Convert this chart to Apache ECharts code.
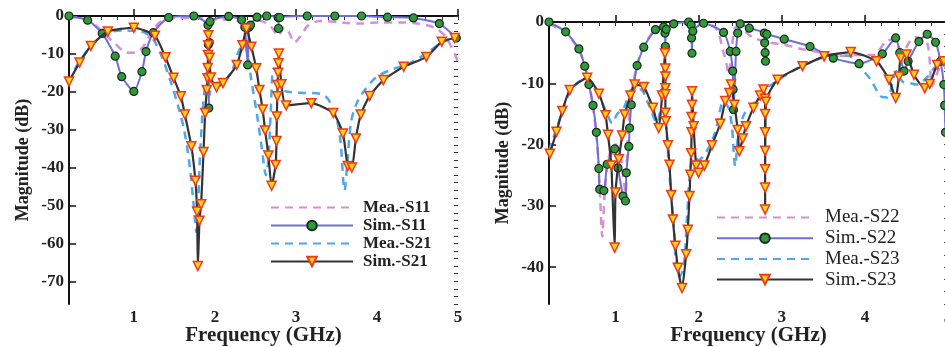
<!DOCTYPE html>
<html><head><meta charset="utf-8">
<script src="https://cdn.jsdelivr.net/npm/echarts@6/dist/echarts.min.js"></script>
<style>html,body{margin:0;padding:0;background:#fff}#c{width:945px;height:347px}</style>
</head><body><div id="c"></div>
<script>
// ---- tick labels ----
const xTicks = [1, 2, 3, 4, 5];
const leftYTicks = [0, -10, -20, -30, -40, -50, -60, -70];
const rightYTicks = [0, -10, -20, -30, -40];
const seriesNames = ['Mea.-S11', 'Sim.-S11', 'Mea.-S21', 'Sim.-S21', 'Mea.-S22', 'Sim.-S22', 'Mea.-S23', 'Sim.-S23'];

// ---- left panel data [GHz, dB] ----
const meaS11 = [[0.2,-0.3],[0.35,-0.6],[0.5,-2],[0.65,-5],[0.78,-7.5],[0.88,-9.4],[0.97,-9.7],[1.05,-9.4],[1.12,-8],[1.2,-5],[1.3,-2],[1.4,-0.8],[1.55,-0.6],[1.7,-0.5],[1.9,-0.7],[2.0,-0.9],[2.2,-1.0],[2.3,-1.5],[2.36,-3.2],[2.42,-2.5],[2.5,-1.2],[2.6,-1.5],[2.7,-3],[2.78,-5.2],[2.86,-3],[2.92,-4.5],[2.98,-7],[3.05,-5.5],[3.15,-2.5],[3.3,-1.3],[3.6,-1.8],[3.8,-2],[4.0,-1.7],[4.3,-1.7],[4.5,-2],[4.7,-3],[4.85,-5.5],[5.0,-12]];
const simS11 = [[0.2,0],[0.43,-1.1],[0.61,-4.6],[0.77,-10.6],[0.85,-16],[1.0,-19.9],[1.1,-14.7],[1.15,-9.4],[1.24,-4.4],[1.43,-0.4],[1.74,0],[1.915,-2.4],[1.92,-7.5],[1.925,-24.3],[1.93,-7],[1.94,-1.5],[2.17,-0.1],[2.33,-1],[2.37,-3],[2.405,-12.9],[2.42,-3],[2.44,-2.4],[2.52,-0.3],[2.64,0],[2.78,-0.4],[2.785,-3.3],[2.8,-0.4],[3.14,0],[3.48,0],[3.81,0],[4.13,-0.3],[4.45,-0.5],[4.77,-2],[4.98,-5.8]];
const meaS21 = [[0.2,-17.5],[0.3,-13],[0.45,-8.5],[0.6,-5.5],[0.75,-4],[0.9,-3.8],[1.05,-4],[1.15,-4.5],[1.25,-6.5],[1.35,-11],[1.45,-17],[1.55,-24],[1.62,-30],[1.68,-38],[1.73,-48],[1.76,-55],[1.77,-57],[1.79,-52],[1.81,-40],[1.84,-28],[1.87,-20],[1.9,-17],[1.93,-21],[1.97,-18],[2.05,-17.5],[2.15,-16.5],[2.22,-14],[2.3,-9],[2.36,-7.5],[2.4,-10],[2.45,-17],[2.52,-26],[2.58,-35],[2.63,-42],[2.66,-38],[2.69,-25],[2.72,-14],[2.75,-14],[2.8,-19],[2.9,-20],[3.1,-20.3],[3.3,-20.5],[3.4,-22],[3.5,-27],[3.55,-33],[3.6,-46],[3.63,-40],[3.68,-28],[3.75,-23],[3.85,-19.5],[4.0,-16],[4.2,-14],[4.4,-12.5],[4.6,-10],[4.8,-7],[4.97,-5.5]];
const simS21 = [[0.2,-17.3],[0.33,-12.3],[0.47,-7.9],[0.68,-4.1],[1.0,-3.1],[1.26,-5.2],[1.39,-10.9],[1.49,-16.3],[1.58,-21.2],[1.63,-26],[1.71,-34.4],[1.76,-43.5],[1.78,-51.6],[1.79,-66],[1.81,-54],[1.83,-49.7],[1.86,-35.9],[1.88,-25.6],[1.9,-19.5],[1.91,-16.4],[1.912,-13.7],[1.915,-10.3],[1.918,-7.7],[1.92,-5.1],[1.935,-11],[1.95,-16.2],[2.02,-18.8],[2.1,-17.7],[2.27,-12.9],[2.34,-7.7],[2.39,-3.3],[2.45,-8.1],[2.51,-13.8],[2.55,-19.5],[2.59,-24.7],[2.62,-30.2],[2.66,-36.8],[2.7,-44.8],[2.75,-39.3],[2.76,-33],[2.765,-26.5],[2.77,-21.2],[2.775,-18.2],[2.78,-15],[2.785,-12.5],[2.79,-9.9],[2.82,-18],[2.88,-23.6],[3.19,-23],[3.46,-25.6],[3.58,-31],[3.64,-39.6],[3.69,-40],[3.74,-32.3],[3.8,-26],[3.91,-21.1],[4.08,-16.9],[4.33,-13.4],[4.61,-10.8],[4.8,-6.8],[4.96,-5.8]];

// ---- right panel data [GHz, dB] ----
const meaS22 = [[0.2,-0.3],[0.4,-1.8],[0.56,-4.6],[0.65,-8],[0.72,-13],[0.78,-20],[0.82,-30],[0.84,-35],[0.87,-28],[0.92,-22],[1.0,-20],[1.05,-21],[1.1,-26],[1.12,-28],[1.15,-18],[1.2,-11],[1.28,-6],[1.38,-3],[1.5,-1],[1.65,-0.5],[1.9,-0.3],[2.1,-0.3],[2.22,-1.2],[2.29,-4.5],[2.33,-6.5],[2.36,-8.5],[2.4,-4],[2.45,-0.8],[2.55,-1.5],[2.65,-2.5],[2.75,-3],[2.87,-3.4],[3.03,-3.7],[3.27,-4.5],[3.5,-5],[3.7,-5.5],[3.9,-5.4],[4.11,-5.4],[4.25,-3.2],[4.35,-2.8],[4.45,-5],[4.55,-3],[4.62,-2.5],[4.75,-3.4],[4.81,-10.5],[4.88,-8],[4.95,-6]];
const simS22 = [[0.2,0],[0.4,-1.6],[0.56,-4.4],[0.63,-7.2],[0.68,-10.2],[0.73,-13.6],[0.77,-18],[0.8,-23.9],[0.81,-27.3],[0.86,-27.5],[0.9,-23.2],[0.99,-20.7],[1.03,-23.8],[1.09,-28.4],[1.12,-29.2],[1.13,-24.6],[1.16,-20.3],[1.17,-17.3],[1.19,-13.5],[1.26,-7.1],[1.34,-4.1],[1.48,-1.25],[1.58,-0.8],[1.595,-1.8],[1.6,-4],[1.61,-1.2],[1.7,-0.3],[1.88,0],[1.91,-0.5],[1.915,-2.6],[1.92,-5.1],[1.93,-1.5],[2.06,-0.2],[2.3,-1.7],[2.38,-4.8],[2.41,-8],[2.415,-11],[2.42,-14.3],[2.45,-4.8],[2.47,-1.8],[2.5,-0.3],[2.61,-1],[2.79,-1.8],[2.795,-3.4],[2.8,-5],[2.805,-6.4],[2.82,-2],[3.03,-2.8],[3.34,-4],[3.62,-5.9],[3.93,-6.8],[4.21,-5.2],[4.37,-2.6],[4.42,-5],[4.47,-8],[4.52,-6.4],[4.65,-3.2],[4.75,-2],[4.85,-3.3],[4.91,-6.4],[4.95,-10.2],[4.96,-13.6],[4.97,-18]];
const meaS23 = [[0.2,-21],[0.3,-17],[0.45,-11.5],[0.6,-9.5],[0.7,-10],[0.8,-12],[0.9,-15],[0.96,-16.5],[1.02,-15],[1.1,-14],[1.2,-11],[1.3,-11],[1.4,-13.5],[1.5,-16.5],[1.55,-14],[1.6,-16],[1.65,-25],[1.7,-33],[1.73,-39.8],[1.77,-41.5],[1.82,-40],[1.86,-32],[1.9,-24],[1.95,-22],[2.0,-22.5],[2.1,-21],[2.2,-18],[2.3,-13],[2.36,-14],[2.4,-17],[2.44,-23.5],[2.48,-18],[2.55,-15],[2.65,-13.5],[2.75,-11.5],[2.9,-10],[3.2,-7.5],[3.5,-5.8],[3.8,-5.5],[3.97,-7.8],[4.07,-9.4],[4.19,-12.1],[4.27,-12.3],[4.38,-8],[4.45,-9.7],[4.55,-10],[4.63,-10.2],[4.75,-9],[4.87,-7.2],[4.97,-7.5]];
const simS23 = [[0.21,-21.5],[0.29,-17.9],[0.36,-14.5],[0.45,-11.1],[0.66,-9.1],[0.8,-11.7],[0.88,-15.2],[0.91,-18.4],[0.95,-23.4],[0.99,-36.8],[1.0,-27.8],[1.04,-22.4],[1.08,-18.5],[1.11,-15.1],[1.18,-12],[1.23,-10.2],[1.34,-10.6],[1.45,-14],[1.52,-17.3],[1.56,-12],[1.595,-5.1],[1.6,-7.6],[1.6,-8.9],[1.6,-10.8],[1.6,-11.8],[1.6,-14.8],[1.605,-16.2],[1.63,-20.1],[1.65,-23.3],[1.67,-28.2],[1.69,-32.2],[1.72,-36.5],[1.75,-40.1],[1.8,-43.4],[1.85,-37.9],[1.87,-33.9],[1.89,-28.4],[1.9,-24.9],[1.91,-21.4],[1.915,-18],[1.915,-15.5],[1.92,-13.5],[1.92,-11.3],[1.94,-17],[1.97,-23.4],[2.0,-24.6],[2.07,-23.4],[2.16,-20.1],[2.26,-16.6],[2.32,-12.9],[2.37,-11.6],[2.39,-10.2],[2.43,-13.5],[2.47,-17.6],[2.49,-21.1],[2.53,-19],[2.57,-17],[2.66,-14],[2.74,-12],[2.78,-11],[2.8,-12.5],[2.8,-15],[2.8,-18],[2.8,-21],[2.8,-24],[2.8,-27],[2.8,-30.6],[2.81,-13],[2.95,-9.4],[3.25,-7.2],[3.51,-5.6],[3.83,-4.9],[4.14,-6.4],[4.29,-9.4],[4.37,-12.4],[4.41,-8.9],[4.43,-5.9],[4.5,-5.3],[4.59,-8.6],[4.72,-10.8],[4.78,-10.1],[4.87,-7],[4.95,-6.4]];

const FONT = '"Liberation Serif","Times New Roman",serif';
const PINK = '#d690d6', SIMBLUE = '#6e70d8', MEABLUE = '#4fa8e8', BLACK = '#333333';

function meaSeries(name, data, color, ax) {
  return { name, type: 'line', data, xAxisIndex: ax, yAxisIndex: ax, showSymbol: false, symbol: 'none',
    smooth: 0.3, clip: false, lineStyle: { color, width: 2.5, type: [8, 6] }, itemStyle: { color }, z: 2 };
}
function simGreen(name, data, ax) {
  return { name, type: 'line', data, xAxisIndex: ax, yAxisIndex: ax, symbol: 'circle', symbolSize: 8,
    smooth: 0.2, clip: false, lineStyle: { color: SIMBLUE, width: 2 },
    itemStyle: { color: '#2e9a3a', borderColor: '#1c2a1c', borderWidth: 1.2 }, z: 3 };
}
function simTri(name, data, ax) {
  return { name, type: 'line', data, xAxisIndex: ax, yAxisIndex: ax, symbol: 'triangle', symbolRotate: 180, symbolSize: 9,
    smooth: 0.2, clip: false, lineStyle: { color: BLACK, width: 2.2 },
    itemStyle: { color: '#ffd21a', borderColor: '#ee3a1a', borderWidth: 1.5 }, z: 4 };
}

function mainX(grid) {
  return { type: 'value', gridIndex: grid, min: 0.2, max: 5,
    axisLine: { show: true, lineStyle: { color: '#111', width: 2 } },
    axisTick: { show: true, inside: true, length: 7, customValues: xTicks, lineStyle: { color: '#111', width: 1.5 } },
    axisLabel: { customValues: xTicks, margin: 5, fontFamily: FONT, fontWeight: 'bold', fontSize: 17, color: '#222' },
    splitLine: { show: false },
    name: 'Frequency (GHz)', nameLocation: 'middle', nameGap: 21, nameMoveOverlap: false,
    nameTextStyle: { fontFamily: FONT, fontWeight: 'bold', fontSize: 21, color: '#222' } };
}
function minorX(grid) {
  return { type: 'value', gridIndex: grid, min: 0.2, max: 5, interval: 0.2,
    axisLine: { show: false }, axisLabel: { show: false }, splitLine: { show: false },
    axisTick: { show: true, inside: true, length: 4, lineStyle: { color: '#333', width: 1 } } };
}
function mainY(grid, min, ticks) {
  return { type: 'value', gridIndex: grid, min, max: 0,
    axisLine: { show: true, lineStyle: { color: '#111', width: 2 } },
    axisTick: { show: true, inside: true, length: 7, customValues: ticks, lineStyle: { color: '#111', width: 1.5 } },
    axisLabel: { customValues: ticks, margin: 5, fontFamily: FONT, fontWeight: 'bold', fontSize: 17, color: '#222' },
    splitLine: { show: false },
    name: 'Magnitude (dB)', nameLocation: 'middle', nameGap: 37, nameMoveOverlap: false,
    nameTextStyle: { fontFamily: FONT, fontWeight: 'bold', fontSize: 18, color: '#222' } };
}
function minorY(grid, min) {
  return { type: 'value', gridIndex: grid, min, max: 0, interval: 2,
    axisLine: { show: false }, axisLabel: { show: false }, splitLine: { show: false },
    axisTick: { show: true, inside: true, length: 4, lineStyle: { color: '#333', width: 1 } } };
}
function legendItems(names) {
  return names.map(n => n.indexOf('Mea') === 0 ? { name: n, itemStyle: { opacity: 0 } } : { name: n });
}

const chart = echarts.init(document.getElementById('c'), null, { renderer: 'canvas' });
chart.setOption({
  animation: false,
  backgroundColor: '#fff',
  grid: [
    { left: 69, right: 487, top: 16, bottom: 43, containLabel: false, outerBoundsMode: 'none' },
    { left: 549, right: -3, top: 22, bottom: 43, containLabel: false, outerBoundsMode: 'none' }
  ],
  xAxis: [mainX(0), minorX(0), mainX(1), minorX(1)],
  yAxis: [mainY(0, -76, leftYTicks), minorY(0, -76), mainY(1, -46, rightYTicks), minorY(1, -46)],
  legend: [
    { data: legendItems(seriesNames.slice(0, 4)), orient: 'vertical', left: 265, top: 194, itemWidth: 82, itemHeight: 12, itemGap: 1,
      textStyle: { fontFamily: FONT, fontWeight: 'bold', fontSize: 17, color: '#222', lineHeight: 14, padding: [0, 0, 0, 5] } },
    { data: legendItems(seriesNames.slice(4)), orient: 'vertical', left: 711, top: 203, itemWidth: 96, itemHeight: 12, itemGap: 1.7,
      textStyle: { fontFamily: FONT, fontSize: 19, color: '#222', lineHeight: 16, padding: [0, 0, 0, 7] } }
  ],
  series: [
    meaSeries(seriesNames[0], meaS11, PINK, 0),
    simGreen(seriesNames[1], simS11, 0),
    meaSeries(seriesNames[2], meaS21, MEABLUE, 0),
    simTri(seriesNames[3], simS21, 0),
    meaSeries(seriesNames[4], meaS22, PINK, 2),
    simGreen(seriesNames[5], simS22, 2),
    meaSeries(seriesNames[6], meaS23, MEABLUE, 2),
    simTri(seriesNames[7], simS23, 2)
  ]
});
</script></body></html>
